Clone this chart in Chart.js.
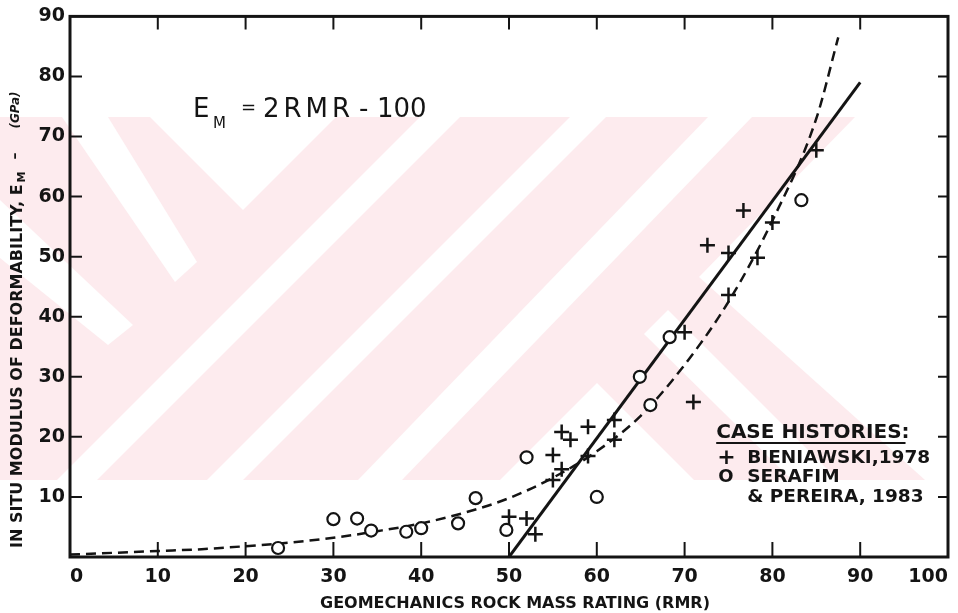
<!DOCTYPE html>
<html>
<head>
<meta charset="utf-8">
<title>In situ modulus of deformability vs RMR</title>
<script src="https://cdn.jsdelivr.net/npm/chart.js@4.4.1/dist/chart.umd.min.js"></script>
<style>
  html, body { margin: 0; padding: 0; background: #fff; }
  #wrap { width: 958px; height: 613px; }
</style>
</head>
<body>
<div id="wrap"><canvas id="rmrChart"></canvas></div>
<script>
// Case histories
const bieniawskiRMR = [50, 52, 53, 55, 55, 56, 56, 57, 59, 59, 62, 62, 70, 71, 72.6, 75, 75, 76.7, 78.3, 80, 85];
const bieniawskiEM  = [6.7, 6.4, 3.8, 12.8, 17, 14.6, 20.8, 19.5, 16.8, 21.7, 19.5, 22.8, 37.4, 25.8, 51.9, 43.6, 50.6, 57.7, 49.8, 55.7, 67.7];

const serafimRMR = [23.7, 30, 32.7, 34.3, 38.3, 40, 44.2, 46.2, 49.7, 52, 60, 64.9, 66.1, 68.3, 83.3];
const serafimEM  = [1.5, 6.3, 6.4, 4.4, 4.2, 4.8, 5.6, 9.8, 4.5, 16.6, 10, 30, 25.3, 36.6, 59.4];

// E_M = 2RMR - 100 (solid line, end points)
const linearRMR = [50, 90];
const linearEM  = [0, 79];

// dashed curve, read along its length
const curveRMR = [0, 5, 10, 15, 20, 25, 30, 35, 40, 45, 50, 55, 60, 65, 70, 75, 80, 85, 87.5];
const curveEM  = [0.4, 0.7, 1.0, 1.3, 1.8, 2.4, 3.2, 4.3, 5.6, 7.4, 9.8, 13.2, 17.6, 23.5, 32, 42.5, 56, 73, 86.5];

const xTickValues = [0, 10, 20, 30, 40, 50, 60, 70, 80, 90, 100];
const yTickValues = [0, 10, 20, 30, 40, 50, 60, 70, 80, 90];

const INK = '#141414';
const FONT = '"DejaVu Sans", sans-serif';

const toPoints = (xs, ys) => xs.map((x, i) => ({ x: x, y: ys[i] }));

// faint pink watermark behind the scan (pixel shapes, not data)
const WM_PINK = '#fdebee';
const wmBand = [0, 117, 925, 480];
const wmWhite = [
  [[150, 117], [336, 117], [243, 210]],
  [[57, 480], [97, 480], [460, 117], [420, 117]],
  [[207, 480], [243, 480], [606, 117], [570, 117]],
  [[358, 480], [402, 480], [752, 117], [708, 117]],
  [[62, 117], [108, 117], [197, 262], [175, 282]],
  [[0, 200], [0, 258], [108, 345], [133, 325]],
  [[500, 480], [597, 383], [694, 480]],
  [[644, 334], [668, 310], [838, 480], [792, 480]],
  [[855, 117], [958, 117], [958, 480], [925, 480], [699, 277]]
];

const background = {
  id: 'background',
  beforeDraw(chart) {
    const ctx = chart.ctx;
    ctx.save();
    ctx.fillStyle = '#fff';
    ctx.fillRect(0, 0, chart.width, chart.height);
    ctx.fillStyle = WM_PINK;
    ctx.fillRect(wmBand[0], wmBand[1], wmBand[2] - wmBand[0], wmBand[3] - wmBand[1]);
    ctx.fillStyle = '#fff';
    wmWhite.forEach(poly => {
      ctx.beginPath();
      poly.forEach((p, i) => i ? ctx.lineTo(p[0], p[1]) : ctx.moveTo(p[0], p[1]));
      ctx.closePath();
      ctx.fill();
    });
    ctx.restore();
  }
};

// box frame with inward tick marks on all four sides
const frame = {
  id: 'frame',
  beforeDatasetsDraw(chart) {
    const { ctx, chartArea: a, scales: { x, y } } = chart;
    ctx.save();
    ctx.strokeStyle = INK;
    ctx.lineWidth = 3;
    ctx.strokeRect(a.left, a.top, a.right - a.left, a.bottom - a.top);
    ctx.lineWidth = 2;
    ctx.beginPath();
    x.ticks.forEach(t => {
      if (t.value === x.min || t.value === x.max) return;
      const px = x.getPixelForValue(t.value);
      ctx.moveTo(px, a.bottom); ctx.lineTo(px, a.bottom - 15);
      ctx.moveTo(px, a.top); ctx.lineTo(px, a.top + 13);
    });
    y.ticks.forEach(t => {
      if (t.value === y.min || t.value === y.max) return;
      const py = y.getPixelForValue(t.value);
      ctx.moveTo(a.left, py); ctx.lineTo(a.left + 12, py);
      ctx.moveTo(a.right, py); ctx.lineTo(a.right - 10, py);
    });
    ctx.stroke();
    ctx.restore();
  }
};

const labels = {
  id: 'labels',
  afterDraw(chart) {
    const { ctx, chartArea: a, scales: { x, y } } = chart;
    ctx.save();
    ctx.fillStyle = INK;
    ctx.textBaseline = 'alphabetic';
    ctx.textAlign = 'left';

    // equation  E_M = 2RMR - 100
    const ex = x.getPixelForValue(14);
    const ey = y.getPixelForValue(73.2);
    ctx.font = '26px ' + FONT;
    ctx.fillText('E', ex, ey);
    ctx.font = '15px ' + FONT;
    ctx.fillText('M', ex + 20, ey + 11);
    ctx.font = '18px ' + FONT;
    ctx.fillText('=', ex + 48, ey - 4);
    ctx.font = '26px ' + FONT;
    ctx.letterSpacing = '4px';
    ctx.fillText('2RMR', ex + 70, ey);
    ctx.letterSpacing = '0px';
    ctx.fillText('-', ex + 166, ey);
    ctx.fillText('100', ex + 184, ey);

    // legend block
    const lx = x.getPixelForValue(73.6);
    const ly = y.getPixelForValue(19.8);
    ctx.font = 'bold 20px ' + FONT;
    const head = 'CASE HISTORIES:';
    ctx.fillText(head, lx, ly);
    const hw = ctx.measureText(head).width;
    ctx.lineWidth = 2;
    ctx.strokeStyle = INK;
    ctx.beginPath();
    ctx.moveTo(lx, ly + 5); ctx.lineTo(lx + hw - 4, ly + 5);
    ctx.stroke();
    ctx.font = 'bold 22px ' + FONT;
    ctx.fillText('+', lx + 1, ly + 26);
    ctx.font = 'bold 18px ' + FONT;
    ctx.fillText('O', lx + 2, ly + 44);
    ctx.font = 'bold 18.5px ' + FONT;
    ctx.fillText('BIENIAWSKI,1978', lx + 31, ly + 25);
    ctx.fillText('SERAFIM', lx + 31, ly + 44);
    ctx.fillText('& PEREIRA, 1983', lx + 31, ly + 64);

    // x-axis title, sitting slightly right of centre as in the scan
    ctx.font = 'bold 16px ' + FONT;
    ctx.textAlign = 'center';
    ctx.fillText('GEOMECHANICS ROCK MASS RATING (RMR)', (a.left + a.right) / 2 + 6, chart.height - 5);
    ctx.textAlign = 'left';

    // rotated y-axis title with subscript
    ctx.translate(18, 0);
    ctx.rotate(-Math.PI / 2);
    ctx.textBaseline = 'middle';
    let u = -548;
    const main = 'IN SITU MODULUS OF DEFORMABILITY, E';
    ctx.font = 'bold 16px ' + FONT;
    ctx.fillText(main, u, 0);
    u += ctx.measureText(main).width + 2;
    ctx.font = 'bold 11px ' + FONT;
    ctx.fillText('M', u, 4);
    u += ctx.measureText('M').width + 12;
    ctx.font = 'bold 14px ' + FONT;
    ctx.fillText('–', u, -3);
    u += ctx.measureText('–').width + 24;
    ctx.font = 'italic bold 12px ' + FONT;
    ctx.fillText('(GPa)', u, -2);
    ctx.restore();
  }
};

new Chart(document.getElementById('rmrChart'), {
  type: 'scatter',
  data: {
    datasets: [
      {
        label: 'Bieniawski, 1978',
        data: toPoints(bieniawskiRMR, bieniawskiEM),
        pointStyle: 'cross',
        pointRadius: 7.5,
        borderWidth: 2.5,
        borderColor: INK,
        order: 1
      },
      {
        label: 'Serafim & Pereira, 1983',
        data: toPoints(serafimRMR, serafimEM),
        pointStyle: 'circle',
        pointRadius: 6,
        borderWidth: 2.2,
        borderColor: INK,
        backgroundColor: '#fff',
        order: 1
      },
      {
        label: 'E_M = 2RMR - 100',
        data: toPoints(linearRMR, linearEM),
        showLine: true,
        pointRadius: 0,
        borderWidth: 3,
        borderColor: INK,
        order: 3
      },
      {
        label: 'Serafim & Pereira curve',
        data: toPoints(curveRMR, curveEM),
        showLine: true,
        pointRadius: 0,
        borderWidth: 2.5,
        borderDash: [10, 6],
        borderColor: INK,
        cubicInterpolationMode: 'monotone',
        order: 2
      }
    ]
  },
  options: {
    responsive: true,
    maintainAspectRatio: false,
    animation: false,
    devicePixelRatio: 1,
    layout: { padding: { top: 16, right: 7, left: 0, bottom: 0 } },
    plugins: {
      legend: { display: false },
      tooltip: { enabled: false }
    },
    scales: {
      x: {
        type: 'linear',
        min: 0,
        max: 100,
        afterBuildTicks: scale => { scale.ticks = xTickValues.map(v => ({ value: v })); },
        afterFit: scale => {
          scale.height = 56;
          scale.paddingLeft = 0;
          scale.paddingRight = 0;
        },
        grid: { display: false, drawTicks: false },
        border: { display: false },
        ticks: {
          align: 'inner',
          padding: 9,
          maxRotation: 0,
          autoSkip: false,
          color: INK,
          font: { family: FONT, size: 19, weight: 'bold' }
        }
      },
      y: {
        type: 'linear',
        min: 0,
        max: 90,
        afterBuildTicks: scale => { scale.ticks = yTickValues.map(v => ({ value: v })); },
        afterFit: scale => { scale.width = 70; },
        grid: { display: false, drawTicks: false },
        border: { display: false },
        ticks: {
          padding: 5,
          color: INK,
          font: { family: FONT, size: 19, weight: 'bold' },
          callback: v => (v === 0 ? '' : v)
        }
      }
    }
  },
  plugins: [background, frame, labels]
});
</script>
</body>
</html>
